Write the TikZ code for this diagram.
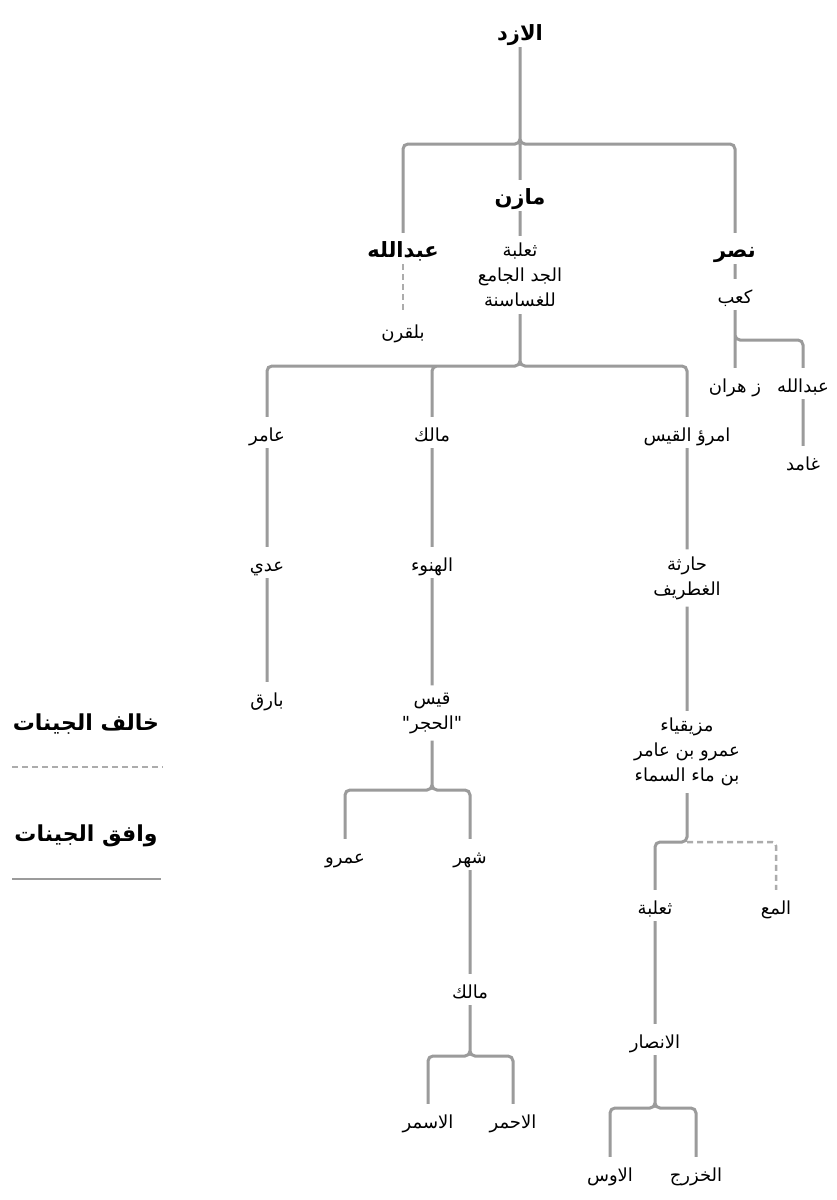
\documentclass[tikz,border=0pt]{standalone}
\usepackage{fontspec}
\newfontfamily\arabicfont[Script=Arabic]{DejaVu Sans}
\TeXXeTstate=1
\usepackage{xcolor}
\usepackage{tikz}
\usetikzlibrary{positioning}
\newcommand{\ar}[1]{\beginR #1\endR}
\definecolor{linkgray}{RGB}{155,155,155}
\definecolor{dashgray}{RGB}{172,172,172}

\begin{document}
\begin{tikzpicture}
      [ x=1pt, y=-1pt,
        kin/.style={font=\arabicfont\fontsize{18}{25}\selectfont, text height=20pt,
          text depth=3pt, inner xsep=2pt, inner ysep=4pt, anchor=base},
        chief/.style={kin, font=\arabicfont\bfseries\fontsize{21}{25}\selectfont},
        kinlines/.style={font=\arabicfont\fontsize{18}{25}\selectfont, align=center, inner sep=7pt},
        legend/.style={font=\arabicfont\bfseries\fontsize{22}{26}\selectfont, inner sep=0pt},
        link/.style={draw=linkgray, line width=3pt, rounded corners=5pt},
        nolink/.style={draw=dashgray, line width=2.5pt, rounded corners=4pt, dash pattern=on 6pt off 4pt}
      ]
      \fill[white] (0,0) rectangle (837,1200);

      \node[chief]    (azd)        at (520,40)   {\ar{الازد}};
      \coordinate     (azdj)       at (520,144);
      \node[chief]    (abdallah)   at (403,257)  {\ar{عبدالله}};
      \node[chief]    (mazin)      at (520,204)  {\ar{مازن}};
      \node[chief]    (nasr)       at (735,257)  {\ar{نصر}};
      \node[kinlines] (thaalaba)   at (520,275)  {\ar{ثعلبة}\\\ar{الجد الجامع}\\\ar{للغساسنة}};
      \node[kin]      (balqarn)    at (403,338)  {\ar{بلقرن}};
      \node[kin]      (kaab)       at (735,303)  {\ar{كعب}};
      \coordinate     (kaabj)      at (735,340);
      \node[kin]      (zahran)     at (735,392)  {\ar{ز هران}};
      \node[kin]      (abdallah2)  at (803,392)  {\ar{عبدالله}};
      \node[kin]      (ghamid)     at (803,470)  {\ar{غامد}};

      \coordinate     (thaalabaj)  at (520,366);
      \node[kin]      (amir)       at (267,441)  {\ar{عامر}};
      \node[kin]      (malik)      at (432,441)  {\ar{مالك}};
      \node[kin]      (imru)       at (687,441)  {\ar{امرؤ القيس}};
      \node[kin]      (adi)        at (267,571)  {\ar{عدي}};
      \node[kin]      (hanu)       at (432,571)  {\ar{الهنوء}};
      \node[kinlines] (haritha)    at (687,578)  {\ar{حارثة}\\\ar{الغطريف}};
      \node[kin]      (bariq)      at (267,706)  {\ar{بارق}};
      \node[kinlines] (qays)       at (432,713)  {\ar{قيس}\\\ar{"الحجر"}};
      \node[kinlines] (muzayqiya)  at (687,752)  {\ar{مزيقياء}\\\ar{عمرو بن عامر}\\\ar{بن ماء السماء}};

      \coordinate     (qaysj)      at (432,790);
      \node[kin]      (amr)        at (345,863)  {\ar{عمرو}};
      \node[kin]      (shahr)      at (470,863)  {\ar{شهر}};
      \node[kin]      (malik2)     at (470,998)  {\ar{مالك}};
      \coordinate     (malikj)     at (470,1056);
      \node[kin]      (asmar)      at (428,1128) {\ar{الاسمر}};
      \node[kin]      (ahmar)      at (513,1128) {\ar{الاحمر}};

      \coordinate     (muzj)       at (687,842);
      \node[kin]      (thaalaba2)  at (655,914)  {\ar{ثعلبة}};
      \node[kin]      (mae)        at (776,914)  {\ar{المع}};
      \node[kin]      (ansar)      at (655,1048) {\ar{الانصار}};
      \coordinate     (ansarj)     at (655,1108);
      \node[kin]      (aws)        at (610,1181) {\ar{الاوس}};
      \node[kin]      (khazraj)    at (696,1181) {\ar{الخزرج}};

      \node[legend]   (against)    at (86,724)   {\ar{خالف الجينات}};
      \coordinate     (againstl)   at (12,767);
      \coordinate     (againstr)   at (163,767);
      \node[legend]   (agree)      at (86,836)   {\ar{وافق الجينات}};
      \coordinate     (agreel)     at (12,879);
      \coordinate     (agreer)     at (161,879);

      \path[link] (azd) -- (azdj) -| (abdallah)
                  (azd) -- (azdj) -| (nasr)
                  (azdj) -- (mazin)
                  (mazin) -- (thaalaba)
                  (nasr) -- (kaab)
                  (kaab) -- (zahran)
                  (kaab) -- (kaabj) -| (abdallah2)
                  (abdallah2) -- (ghamid);
      \path[nolink] (abdallah) -- (balqarn);

      \path[link] (thaalaba) -- (thaalabaj) -| (amir)
                  (thaalaba) -- (thaalabaj) -| (malik)
                  (thaalaba) -- (thaalabaj) -| (imru)
                  (amir) -- (adi)   (adi) -- (bariq)
                  (malik) -- (hanu) (hanu) -- (qays)
                  (imru) -- (haritha) (haritha) -- (muzayqiya);

      \path[link] (qays) -- (qaysj) -| (amr)
                  (qays) -- (qaysj) -| (shahr)
                  (shahr) -- (malik2)
                  (malik2) -- (malikj) -| (asmar)
                  (malik2) -- (malikj) -| (ahmar);

      \path[link] (muzayqiya) -- (muzj) -| (thaalaba2)
                  (thaalaba2) -- (ansar)
                  (ansar) -- (ansarj) -| (aws)
                  (ansar) -- (ansarj) -| (khazraj);
      \path[nolink] (muzj) -| (mae);

      \path[nolink, rounded corners=0pt, line width=2pt] (againstl) -- (againstr);
      \path[link, line width=2.5pt] (agreel) -- (agreer);
    \end{tikzpicture}
\end{document}
